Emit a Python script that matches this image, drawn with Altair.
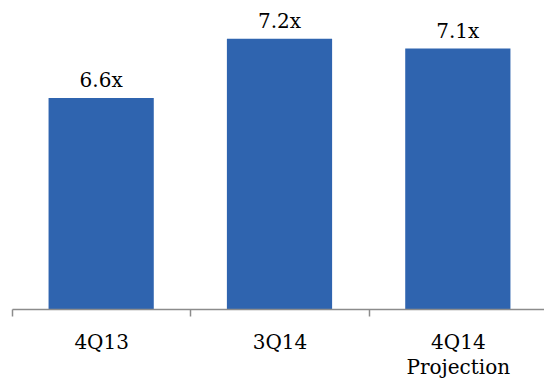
import altair as alt
import pandas as pd

categories = ["4Q13", "3Q14", "4Q14 Projection"]
values = [6.6, 7.2, 7.1]
labels = ["6.6x", "7.2x", "7.1x"]

df = pd.DataFrame({"cat": categories, "val": values, "lab": labels})

FONT = "DejaVu Serif"

x = alt.X(
    "cat:N",
    sort=None,
    title=None,
    scale=alt.Scale(paddingInner=0, paddingOuter=0, range=[0, 535]),
    axis=alt.Axis(
        tickBand="extent",
        labelAngle=0,
        labelFont=FONT,
        labelFontSize=20,
        labelColor="black",
        labelExpr="split(datum.label, ' ')",
        labelLineHeight=25,
        labelPadding=16,
        tickSize=7,
        tickColor="#8c8c8c",
        tickWidth=1.5,
        domainColor="#8c8c8c",
        domainWidth=1.5,
        grid=False,
        zindex=2,
    ),
)
y = alt.Y(
    "val:Q",
    axis=None,
    scale=alt.Scale(domain=[4.47, 7.59], zero=False, nice=False, clamp=True),
)

bars = alt.Chart(df).mark_bar(
    color="#2f64af", width=alt.RelativeBandSize(0.59), clip=True
).encode(x=x, y=y, y2=alt.datum(4.47))

text = alt.Chart(df).mark_text(
    font=FONT, fontSize=20, color="black", baseline="alphabetic", dy=-11
).encode(x=x, y=y, text="lab:N")

chart = (
    alt.layer(bars, text)
    .properties(
        width=532,
        height=309,
        autosize=alt.AutoSizeParams(type="none"),
        padding={"left": 12, "top": 0, "right": 0, "bottom": 72},
    )
    .configure_view(stroke=None)
)

chart.save("out.html", embed_options={"renderer": "svg", "actions": False})
